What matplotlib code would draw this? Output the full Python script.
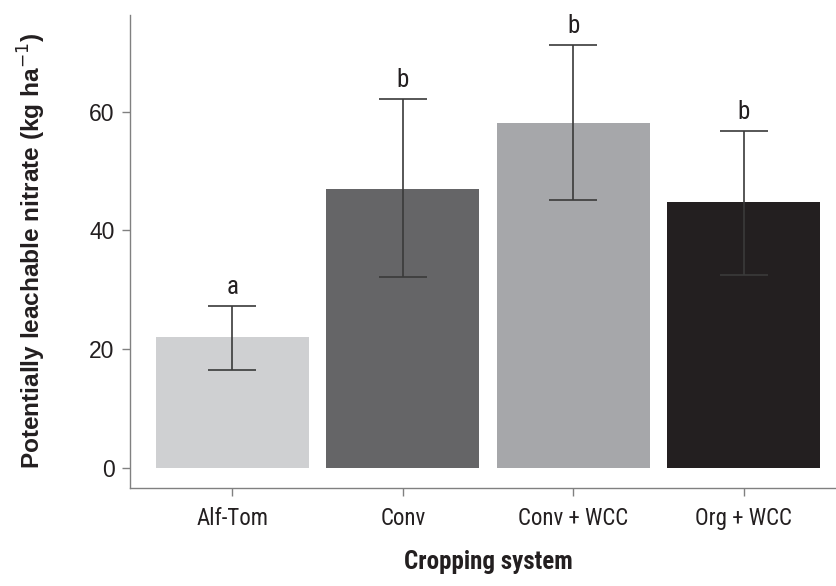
import matplotlib
matplotlib.use("Agg")
import matplotlib.pyplot as plt
from matplotlib import font_manager
from matplotlib.font_manager import FontProperties

# cropping systems and potentially leachable nitrate (kg/ha)
systems = ["Alf-Tom", "Conv", "Conv + WCC", "Org + WCC"]
nitrate_mean = [22.0, 47.0, 58.1, 44.8]
err_upper = [27.3, 62.1, 71.2, 56.7]
err_lower = [16.5, 32.1, 45.1, 32.5]
groups = ["a", "b", "b", "b"]
bar_colors = ["#cfd0d2", "#656567", "#a6a7aa", "#231f20"]


def is_narrow(f):
    st = f.stretch
    if isinstance(st, str):
        narrow_st = st in ("condensed", "semi-condensed", "extra-condensed", "ultra-condensed")
    else:
        narrow_st = st < 500
    return narrow_st or "Condensed" in f.name or "Narrow" in f.name


def weight_num(w):
    if isinstance(w, int):
        return w
    return {"normal": 400, "regular": 400, "book": 400, "medium": 500,
            "semibold": 600, "demibold": 600, "bold": 700, "heavy": 800,
            "black": 900, "light": 300}.get(str(w).lower(), 400)


def narrow_font(bold):
    fonts = [f for f in font_manager.fontManager.ttflist
             if is_narrow(f) and f.style == "normal"]
    order = ["Roboto", "Open Sans", "Noto Sans", "Liberation Sans", "DejaVu Sans"]
    fonts.sort(key=lambda f: next((i for i, n in enumerate(order) if f.name.startswith(n)), 99))
    target = 700 if bold else 400
    best = None
    for f in fonts:
        if best is None or abs(weight_num(f.weight) - target) < abs(weight_num(best.weight) - target):
            if best is None or f.name == best.name or abs(weight_num(f.weight) - target) == 0:
                best = f
    if best is None:
        return FontProperties(family="Roboto", weight="bold" if bold else "normal")
    return FontProperties(fname=best.fname)


cond = narrow_font(False)
cond_bold = narrow_font(True)

fig = plt.figure(figsize=(8.37, 5.86), dpi=100)
ax = fig.add_axes([130 / 837, 1 - 488 / 586, (846 - 130) / 837, (488 - 15) / 586])

x = list(range(len(systems)))
ax.bar(x, nitrate_mean, width=0.9, color=bar_colors, zorder=1)

yerr = [[m - lo for m, lo in zip(nitrate_mean, err_lower)],
        [hi - m for m, hi in zip(nitrate_mean, err_upper)]]
ax.errorbar(x, nitrate_mean, yerr=yerr, fmt="none", ecolor="#3a3a3a",
            elinewidth=1.2, capsize=17, capthick=1.2, zorder=2)

# significance letters above the error bars
for xi, top, g in zip(x, err_upper, groups):
    t = ax.text(xi, top + 1.2, g, ha="center", va="bottom", color="#231f20",
                fontproperties=cond)
    t.set_fontsize(18)

ax.set_xlim(-0.6, 3.6)
ax.set_ylim(-3.4, 76.3)
ax.set_yticks([0, 20, 40, 60])
ax.set_xticks(x)
ax.set_xticklabels(systems)
for lab in ax.get_xticklabels():
    lab.set_fontproperties(cond)
    lab.set_fontsize(16.5)
for lab in ax.get_yticklabels():
    lab.set_family("Liberation Sans")
    lab.set_fontsize(16.5)

for side in ["top", "right"]:
    ax.spines[side].set_visible(False)
for side in ["left", "bottom"]:
    ax.spines[side].set_color("#808080")
    ax.spines[side].set_linewidth(1.0)
ax.tick_params(axis="both", color="#808080", length=6, width=1.0,
               labelcolor="#231f20", pad=5)
ax.tick_params(axis="x", pad=8)

xl = ax.set_xlabel("Cropping system", color="#231f20", labelpad=14)
xl.set_fontproperties(cond_bold)
xl.set_fontsize(18)
ax.set_ylabel("Potentially leachable nitrate (kg ha$^{-1}$)", family="Liberation Sans",
              fontweight="bold", fontsize=17.6, labelpad=30, color="#231f20")

fig.savefig("out.png", dpi=100)
